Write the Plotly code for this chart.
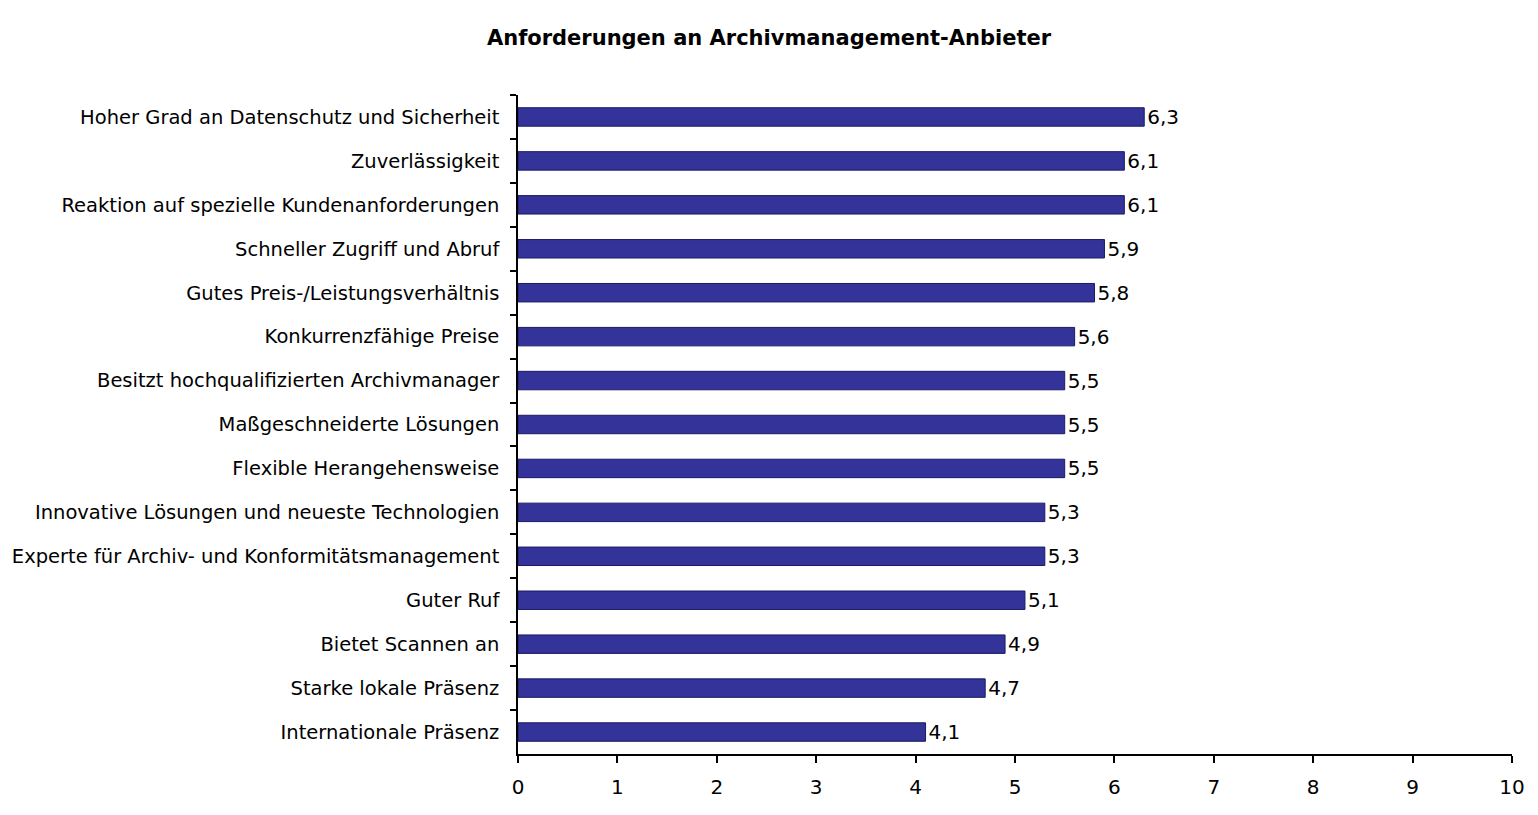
import plotly.graph_objects as go

# ---------- data ----------
criteria = [
    "Hoher Grad an Datenschutz und Sicherheit",
    "Zuverlässigkeit",
    "Reaktion auf spezielle Kundenanforderungen",
    "Schneller Zugriff und Abruf",
    "Gutes Preis-/Leistungsverhältnis",
    "Konkurrenzfähige Preise",
    "Besitzt hochqualifizierten Archivmanager",
    "Maßgeschneiderte Lösungen",
    "Flexible Herangehensweise",
    "Innovative Lösungen und neueste Technologien",
    "Experte für Archiv- und Konformitätsmanagement",
    "Guter Ruf",
    "Bietet Scannen an",
    "Starke lokale Präsenz",
    "Internationale Präsenz",
]
scores = [6.3, 6.1, 6.1, 5.9, 5.8, 5.6, 5.5, 5.5, 5.5, 5.3, 5.3, 5.1, 4.9, 4.7, 4.1]
x_ticks = list(range(0, 11))

FONT = "DejaVu Sans, Verdana, sans-serif"

fig = go.Figure(go.Bar(
    x=scores, y=criteria, orientation="h",
    marker=dict(color="#333399", line=dict(color="#1a1a66", width=1)),
    texttemplate="%{x:.1f}", textposition="outside",
    textfont=dict(family=FONT, size=20, color="black"),
    constraintext="none",
    cliponaxis=False,
    hoverinfo="x+y",
))

# page body has a small margin, so the figure is a bit smaller than the window
fig.update_layout(
    width=1522, height=799,
    paper_bgcolor="white", plot_bgcolor="white",
    separators=",.",
    bargap=0.58,
    showlegend=False,
    margin=dict(l=510, r=18, t=87, b=53, autoexpand=False),
    font=dict(family=FONT, size=19.5, color="black"),
    title=dict(text="<b>Anforderungen an Archivmanagement-Anbieter</b>",
               x=0.5, xanchor="center", y=0.9625, yanchor="middle",
               font=dict(family=FONT, size=21, color="black")),
)

fig.update_xaxes(
    range=[0, 10], tickvals=x_ticks, showgrid=False, zeroline=False,
    showline=True, linecolor="black", linewidth=1.5,
    ticks="outside", ticklen=7, tickcolor="black", tickwidth=1.5,
    ticklabelstandoff=7, tickfont=dict(size=20), automargin=False,
)
fig.update_yaxes(
    autorange="reversed", showgrid=False, zeroline=False,
    showline=True, linecolor="black", linewidth=1.5,
    ticks="outside", ticklen=6, tickcolor="black", tickwidth=1.5,
    tickson="boundaries", ticklabelstandoff=13, automargin=False,
)

fig.write_html("out.html")
